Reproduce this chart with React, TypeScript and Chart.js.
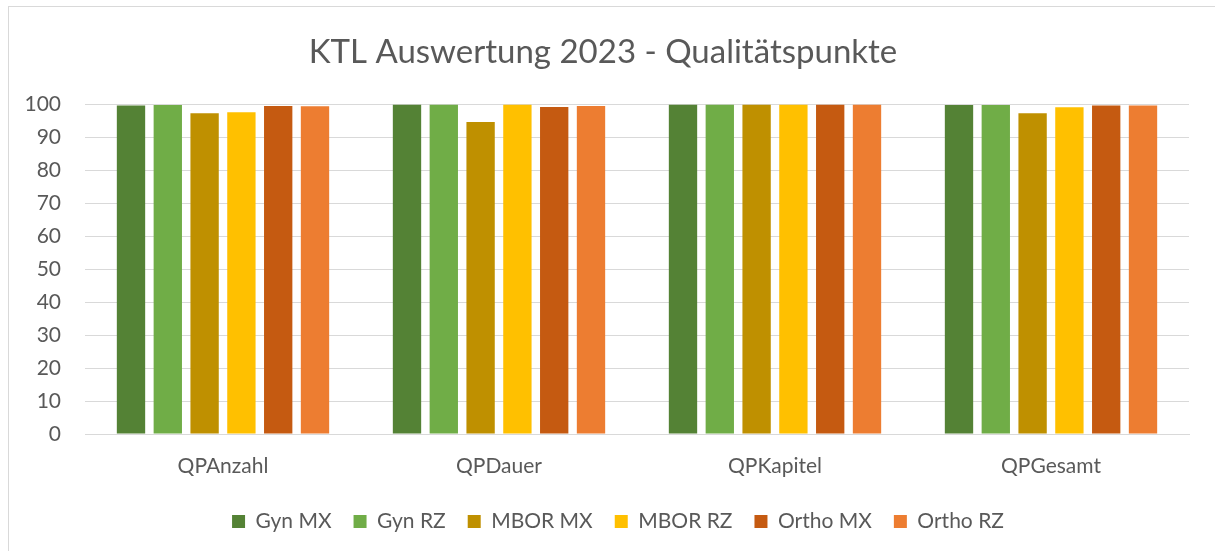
import React, { useEffect, useRef } from "react";
import { Chart, registerables } from "chart.js";

Chart.register(...registerables);

const categories = ["QPAnzahl", "QPDauer", "QPKapitel", "QPGesamt"];
const gynMX = [99.7, 100, 100, 99.9];
const gynRZ = [99.9, 100, 100, 99.9];
const mborMX = [97.4, 94.7, 100, 97.4];
const mborRZ = [97.7, 100, 100, 99.2];
const orthoMX = [99.6, 99.3, 100, 99.7];
const orthoRZ = [99.5, 99.6, 100, 99.7];
const seriesNames = ["Gyn MX", "Gyn RZ", "MBOR MX", "MBOR RZ", "Ortho MX", "Ortho RZ"];
const seriesColors = ["#548235", "#70AD47", "#BF9000", "#FFC000", "#C55A11", "#ED7D31"];
const titleText = "KTL Auswertung 2023 - Qualitätspunkte";

const FONT = "Lato";
const TEXT = "#595959";
const GRID = "#D9D9D9";

// The chart frame is wider than the window: legend and title are centred on it.
const frameCentering = {
  id: "frameCentering",
  afterLayout(chart: any) {
    if (chart.legend) {
      chart.legend.left += 19;
      chart.legend.right += 19;
    }
    if (chart.titleBlock) {
      chart.titleBlock.left += 4;
      chart.titleBlock.right += 4;
    }
  },
};

export default function App() {
  const ref = useRef<HTMLCanvasElement | null>(null);
  useEffect(() => {
    if (!ref.current) return;
    const values = [gynMX, gynRZ, mborMX, mborRZ, orthoMX, orthoRZ];
    const chart = new Chart(ref.current, {
      type: "bar",
      data: {
        labels: categories,
        datasets: values.map((v, i) => ({
          label: seriesNames[i],
          data: v,
          backgroundColor: seriesColors[i],
          borderWidth: 0,
          categoryPercentage: 0.8,
          barPercentage: 0.77,
        })),
      },
      plugins: [frameCentering],
      options: {
        animation: false,
        responsive: false,
        maintainAspectRatio: false,
        layout: { padding: { left: 0, right: 30, top: 0, bottom: 13 } },
        plugins: {
          title: {
            display: true,
            text: titleText,
            color: TEXT,
            font: { family: FONT, size: 33, weight: "normal" },
            padding: { top: 26, bottom: 32 },
          },
          legend: {
            position: "bottom",
            labels: {
              color: TEXT,
              font: { family: FONT, size: 21 },
              boxWidth: 13,
              boxHeight: 13,
              padding: 22,
            },
          },
          tooltip: { enabled: false },
        },
        scales: {
          x: {
            grid: { display: false, drawTicks: false },
            border: { display: true, color: GRID, width: 1 },
            ticks: { color: TEXT, font: { family: FONT, size: 21 }, padding: 20 },
            afterFit: (s: any) => {
              s.height = 55;
            },
          },
          y: {
            min: 0,
            max: 100,
            grid: { color: GRID, lineWidth: 1, drawTicks: false },
            border: { display: false },
            ticks: {
              stepSize: 10,
              color: TEXT,
              font: { family: FONT, size: 21 },
              padding: 24,
            },
            afterFit: (s: any) => {
              s.width = 76;
            },
          },
        },
      },
    });
    return () => chart.destroy();
  }, []);
  return (
    <div style={{ position: "fixed", inset: 0, overflow: "hidden", background: "#fff" }}>
      <div
        style={{
          position: "absolute",
          left: 8,
          top: 6,
          width: 1230,
          height: 560,
          border: `1px solid ${GRID}`,
          background: "#fff",
        }}
      >
        <canvas ref={ref} width={1210} height={548} style={{ display: "block" }} />
      </div>
    </div>
  );
}
